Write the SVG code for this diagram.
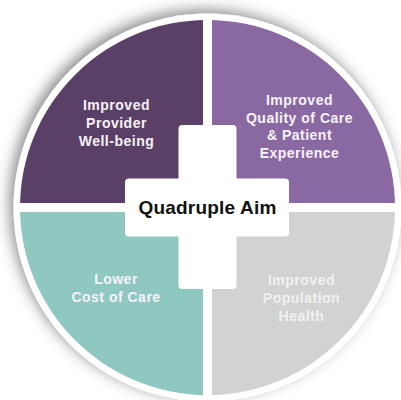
<svg xmlns="http://www.w3.org/2000/svg" width="401" height="400" viewBox="0 0 401 400">
  <style>
    .lbl { font-family: "Liberation Sans", Arial, sans-serif; font-weight: bold; font-size: 14px; letter-spacing: 0.5px; fill: #f7f3f8; text-anchor: middle; }
    .lbl-gray { fill: #f1f1f1; }
    .title { font-family: "Liberation Sans", Arial, sans-serif; font-weight: bold; font-size: 19px; letter-spacing: 0.2px; fill: #111111; text-anchor: middle; }
    .cross { fill: #ffffff; }
  </style>
  <defs>
    <filter id="shadow" x="-20%" y="-20%" width="140%" height="140%">
      <feDropShadow dx="-4" dy="-4" stdDeviation="7" flood-color="#444444" flood-opacity="0.6"/>
    </filter>
    <clipPath id="disc">
      <circle cx="207.5" cy="207.5" r="187.5"/>
    </clipPath>
  </defs>
  <rect width="401" height="400" fill="#ffffff"/>
  <circle cx="207.5" cy="207.5" r="194" fill="#ffffff" filter="url(#shadow)"/>
  <g clip-path="url(#disc)">
    <g id="q-provider"><rect x="0" y="0" width="203" height="203" fill="#5a3f66"/></g>
    <g id="q-quality"><rect x="212" y="0" width="200" height="203" fill="#8a69a3"/></g>
    <g id="q-cost"><rect x="0" y="212" width="203" height="200" fill="#8ec8c1"/></g>
    <g id="q-population"><rect x="212" y="212" width="200" height="200" fill="#d1d2d2"/></g>
  </g>
  <g id="cross">
    <rect class="cross" x="178.5" y="125" width="58" height="164" rx="4"/>
    <rect class="cross" x="125" y="178.5" width="164" height="58" rx="4"/>
    <text class="title" x="207.5" y="213.5">Quadruple Aim</text>
  </g>
  <g id="label-provider">
    <text class="lbl" x="116.5" y="110">Improved</text>
    <text class="lbl" x="116.5" y="128">Provider</text>
    <text class="lbl" x="116.5" y="146">Well-being</text>
  </g>
  <g id="label-quality">
    <text class="lbl" x="299.5" y="105">Improved</text>
    <text class="lbl" x="299.5" y="122.5">Quality of Care</text>
    <text class="lbl" x="299.5" y="140">&amp; Patient</text>
    <text class="lbl" x="299.5" y="157.5">Experience</text>
  </g>
  <g id="label-cost">
    <text class="lbl" x="116" y="284">Lower</text>
    <text class="lbl" x="116" y="302">Cost of Care</text>
  </g>
  <g id="label-population">
    <text class="lbl lbl-gray" x="301.5" y="285">Improved</text>
    <text class="lbl lbl-gray" x="301.5" y="303">Population</text>
    <text class="lbl lbl-gray" x="301.5" y="321">Health</text>
  </g>
</svg>
